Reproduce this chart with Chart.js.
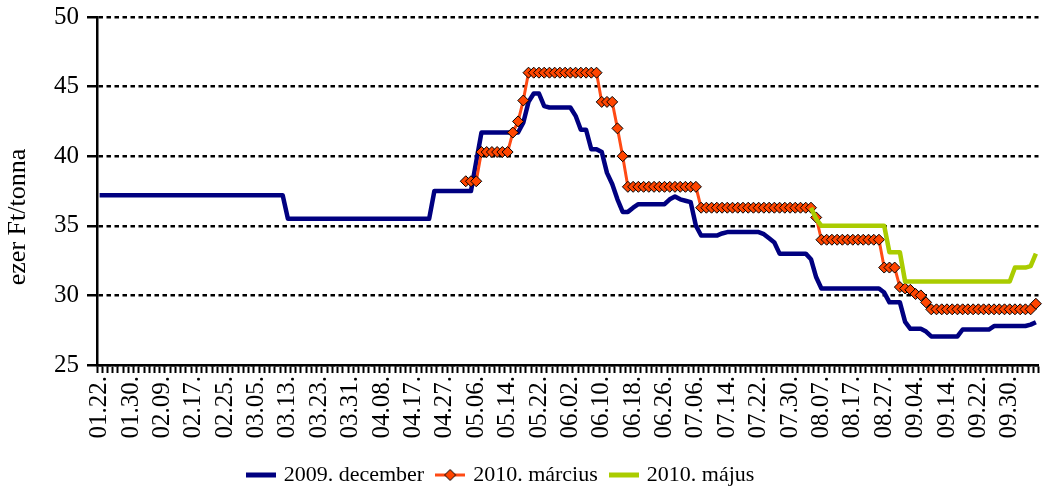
<!DOCTYPE html>
<html>
<head>
<meta charset="utf-8">
<script src="https://cdn.jsdelivr.net/npm/chart.js@4.4.0/dist/chart.umd.min.js"></script>
<style>
  html, body { margin: 0; padding: 0; background: #fff; }
</style>
</head>
<body>
<canvas id="myChart" width="1045" height="488"></canvas>
<script>
const ctx = document.getElementById("myChart");

// one label every 6 trading days
const tickLabels = [
  "01.22.", "01.30.", "02.09.", "02.17.", "02.25.", "03.05.", "03.13.", "03.23.",
  "03.31.", "04.08.", "04.17.", "04.27.", "05.06.", "05.14.", "05.22.", "06.02.",
  "06.10.", "06.18.", "06.26.", "07.06.", "07.14.", "07.22.", "07.30.", "08.07.",
  "08.17.", "08.27.", "09.04.", "09.14.", "09.22.", "09.30.",
];
const labelStep = 6;
const dayCount = 180;

const seriesNames = ["2009. december", "2010. március", "2010. május"];

// ezer Ft/tonna, one value per trading day
const dec2009 = [
  37.2, 37.2, 37.2, 37.2, 37.2, 37.2, 37.2, 37.2, 37.2, 37.2,
  37.2, 37.2, 37.2, 37.2, 37.2, 37.2, 37.2, 37.2, 37.2, 37.2,
  37.2, 37.2, 37.2, 37.2, 37.2, 37.2, 37.2, 37.2, 37.2, 37.2,
  37.2, 37.2, 37.2, 37.2, 37.2, 37.2, 35.5, 35.5, 35.5, 35.5,
  35.5, 35.5, 35.5, 35.5, 35.5, 35.5, 35.5, 35.5, 35.5, 35.5,
  35.5, 35.5, 35.5, 35.5, 35.5, 35.5, 35.5, 35.5, 35.5, 35.5,
  35.5, 35.5, 35.5, 35.5, 37.5, 37.5, 37.5, 37.5, 37.5, 37.5,
  37.5, 37.5, 39.6, 41.7, 41.7, 41.7, 41.7, 41.7, 41.7, 41.7,
  41.7, 42.4, 43.9, 44.5, 44.5, 43.6, 43.5, 43.5, 43.5, 43.5,
  43.5, 42.9, 41.9, 41.9, 40.5, 40.5, 40.3, 38.8, 38.0, 36.9,
  36.0, 36.0, 36.3, 36.55, 36.55, 36.55, 36.55, 36.55, 36.55, 36.9,
  37.1, 36.9, 36.8, 36.7, 35.0, 34.3, 34.3, 34.3, 34.3, 34.45,
  34.55, 34.55, 34.55, 34.55, 34.55, 34.55, 34.55, 34.4, 34.1, 33.8,
  33.0, 33.0, 33.0, 33.0, 33.0, 33.0, 32.6, 31.3, 30.5, 30.5,
  30.5, 30.5, 30.5, 30.5, 30.5, 30.5, 30.5, 30.5, 30.5, 30.5,
  30.2, 29.5, 29.5, 29.5, 28.1, 27.6, 27.6, 27.6, 27.4, 27.05,
  27.05, 27.05, 27.05, 27.05, 27.05, 27.55, 27.55, 27.55, 27.55, 27.55,
  27.55, 27.8, 27.8, 27.8, 27.8, 27.8, 27.8, 27.8, 27.9, 28.07,
];

const mar2010Start = 70;
const mar2010 = [
  38.2, 38.2, 38.2, 40.3, 40.3, 40.3, 40.3, 40.3, 40.3, 41.7,
  42.5, 44.0, 46, 46, 46, 46, 46, 46, 46, 46,
  46, 46, 46, 46, 46, 46, 43.9, 43.9, 43.9, 42.0,
  40.0, 37.8, 37.8, 37.8, 37.8, 37.8, 37.8, 37.8, 37.8, 37.8,
  37.8, 37.8, 37.8, 37.8, 37.8, 36.3, 36.3, 36.3, 36.3, 36.3,
  36.3, 36.3, 36.3, 36.3, 36.3, 36.3, 36.3, 36.3, 36.3, 36.3,
  36.3, 36.3, 36.3, 36.3, 36.3, 36.3, 36.3, 35.6, 34.0, 34.0,
  34.0, 34.0, 34.0, 34.0, 34.0, 34.0, 34.0, 34.0, 34.0, 34.0,
  32.0, 32.0, 32.0, 30.6, 30.5, 30.4, 30.1, 30.0, 29.5, 29.0,
  29.0, 29.0, 29.0, 29.0, 29.0, 29.0, 29.0, 29.0, 29.0, 29.0,
  29.0, 29.0, 29.0, 29.0, 29.0, 29.0, 29.0, 29.0, 29.0, 29.4,
];

const may2010Start = 136;
const may2010 = [
  36.3, 35.5, 35.0, 35.0,
  35.0, 35.0, 35.0, 35.0, 35.0, 35.0, 35.0, 35.0, 35.0, 35.0,
  35.0, 33.1, 33.1, 33.1, 31.0, 31.0, 31.0, 31.0, 31.0, 31.0,
  31.0, 31.0, 31.0, 31.0, 31.0, 31.0, 31.0, 31.0, 31.0, 31.0,
  31.0, 31.0, 31.0, 31.0, 31.0, 32.0, 32.0, 32.0, 32.1, 33.0,
];

const labels = [];
for (let i = 0; i < dayCount; i++) {
  labels.push(i % labelStep === 0 ? tickLabels[i / labelStep] : "");
}

function padFrom(start, values) {
  return new Array(start).fill(null).concat(values);
}

const navy = "#000080";
const orange = "#FF4A14";
const lime = "#AACC00";

function legendIcon(color, width, diamond) {
  const c = document.createElement("canvas");
  c.width = 30;
  c.height = 14;
  const g = c.getContext("2d");
  g.strokeStyle = color;
  g.lineWidth = width;
  g.beginPath();
  g.moveTo(0, 7);
  g.lineTo(30, 7);
  g.stroke();
  if (diamond) {
    g.beginPath();
    g.moveTo(15, 1.5);
    g.lineTo(20.5, 7);
    g.lineTo(15, 12.5);
    g.lineTo(9.5, 7);
    g.closePath();
    g.fillStyle = "#FF4500";
    g.fill();
    g.lineWidth = 1;
    g.strokeStyle = "#000";
    g.stroke();
  }
  return c;
}
const legendIcons = [legendIcon(navy, 5, false), legendIcon(orange, 3, true), legendIcon(lime, 5, false)];

const serif = '"Liberation Serif", "DejaVu Serif", serif';
Chart.defaults.font.family = serif;
Chart.defaults.color = "#000";

var chart = new Chart(ctx, {
  type: "line",
  data: {
    labels: labels,
    datasets: [
      {
        label: seriesNames[0],
        data: dec2009,
        borderColor: navy,
        borderWidth: 4.5,
        borderJoinStyle: "round",
        pointRadius: 0,
        tension: 0,
        order: 3,
      },
      {
        label: seriesNames[1],
        data: padFrom(mar2010Start, mar2010),
        borderColor: orange,
        borderWidth: 3,
        pointStyle: "rectRot",
        pointRadius: 5.5,
        pointBackgroundColor: "#FF4500",
        pointBorderColor: "#000",
        pointBorderWidth: 1,
        tension: 0,
        order: 2,
      },
      {
        label: seriesNames[2],
        data: padFrom(may2010Start, may2010),
        borderColor: lime,
        borderWidth: 4.5,
        borderJoinStyle: "round",
        pointRadius: 0,
        tension: 0,
        order: 1,
      },
    ],
  },
  options: {
    responsive: false,
    animation: false,
    devicePixelRatio: 1,
    events: [],
    layout: { padding: { left: -40, right: 2, top: 17, bottom: -8 } },
    scales: {
      x: {
        offset: true,
        grid: {
          display: true,
          drawOnChartArea: false,
          offset: true,
          tickLength: 8,
          tickWidth: 2,
          tickColor: "#000",
        },
        border: { color: "#000", width: 2.5 },
        ticks: {
          autoSkip: false,
          minRotation: 90,
          maxRotation: 90,
          padding: 3,
          font: { size: 25 },
        },
        afterFit: (scale) => {
          scale.height = 85;
          scale.paddingLeft = 0;
          scale.paddingRight = 0;
        },
      },
      y: {
        min: 25,
        max: 50,
        ticks: { stepSize: 5, padding: 8, font: { size: 25 } },
        grid: {
          color: "#000",
          lineWidth: 2.5,
          tickLength: 10,
          tickColor: "#000",
          tickWidth: 2.5,
        },
        border: { color: "#000", width: 2.5, dash: [4.5, 3.5] },
        title: {
          display: true,
          // trailing spaces push the visible words a bit below the middle, as in the original
          text: "ezer Ft/tonna        ",
          font: { size: 26 },
          padding: { top: 43, bottom: 0 },
        },
        afterFit: (scale) => {
          scale.width = 137;
          scale.paddingTop = 0;
          scale.paddingBottom = 0;
        },
      },
    },
    plugins: {
      tooltip: { enabled: false },
      legend: {
        position: "bottom",
        labels: {
          usePointStyle: true,
          pointStyleWidth: 24,
          padding: 14,
          font: { size: 22 },
          color: "#000",
          sort: (a, b) => a.datasetIndex - b.datasetIndex,
          generateLabels: (chart) => {
            const items = Chart.defaults.plugins.legend.labels.generateLabels(chart);
            items.forEach((it) => {
              it.pointStyle = legendIcons[it.datasetIndex];
            });
            return items;
          },
        },
      },
    },
  },
});
</script>
</body>
</html>
